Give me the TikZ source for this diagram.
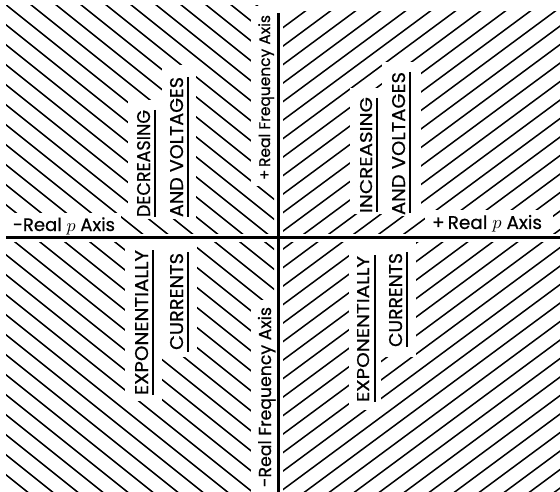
\documentclass[tikz,border=0pt]{standalone}
\usepackage{fontspec}
\setsansfont{Poppins}[FakeBold=0.6]
\usepackage{graphicx}
\begin{document}
\begin{tikzpicture}[x=1pt,y=-1pt,
  hatch/.style={line width=1.5pt, line cap=round},
  axisline/.style={line width=3pt},
  uline/.style={line width=1.8pt},
  lbl/.style={inner sep=0pt, outer sep=0pt, rotate=90, anchor=base, font=\sffamily},
  hlbl/.style={inner sep=0pt, outer sep=0pt, anchor=base west, font=\sffamily},
  gap/.style={fill=white, draw=none}]
\useasboundingbox (0,0) rectangle (560,492);

% left half hatching "\"
\begin{scope}
  \clip (6,6) rectangle (274,233);
  \foreach \c in {-260,-240,...,240} \draw[hatch] (0,\c) -- (300,\c+240);
\end{scope}
\begin{scope}
  \clip (6,242) rectangle (274,492);
  \foreach \c in {-10,10,...,500} \draw[hatch] (0,\c) -- (300,\c+240);
\end{scope}
% right half hatching "/"
\begin{scope}
  \clip (283,12) rectangle (560,233);
  \foreach \c in {200,218.5,...,680} \draw[hatch] (270,\c-199.8) -- (570,\c-421.8);
\end{scope}
\begin{scope}
  \clip (283,242) rectangle (560,492);
  \foreach \c in {440,458.5,...,940} \draw[hatch] (270,\c-199.8) -- (570,\c-421.8);
\end{scope}

% gaps around the lettering
\fill[gap] (6,213) rectangle (121,235);
\fill[gap] (128,100) rectangle (162,219);
\fill[gap] (162,65) rectangle (196,219);
\fill[gap] (251,6) rectangle (276,186);
\fill[gap] (125,240) rectangle (162,401);
\fill[gap] (162,240) rectangle (197,357);
\fill[gap] (251,300) rectangle (276,492);
\fill[gap] (350,88) rectangle (382,214);
\fill[gap] (382,62) rectangle (421,216);
\fill[gap] (425,210) rectangle (553,235);
\fill[gap] (349,240) rectangle (381,410);
\fill[gap] (381,240) rectangle (416,357);

% axes
\coordinate (vtop) at (278,13);
\coordinate (vbot) at (278,492);
\coordinate (hl) at (6,237);
\coordinate (hr) at (560,237);
\draw[axisline] (vtop) -- (vbot);
\draw[axisline] (hl) -- (hr);

% axis labels
\node[hlbl] (negp) at (13,231) {\resizebox{102pt}{!}{-Real $p$ Axis}};
\node[hlbl] (posp) at (432,229) {\resizebox{110pt}{!}{+\,Real $p$ Axis}};
\node[lbl] (posf) at (270,97.5) {\resizebox{165pt}{!}{+\,Real Frequency Axis}};
\node[lbl] (negf) at (271,397) {\resizebox{180pt}{!}{-Real Frequency Axis}};

% quadrant lettering
\node[lbl] (dec) at (150,163.5) {\resizebox{107pt}{13pt}{DECREASING}};
\node[lbl] (avl) at (183,147) {\resizebox{140pt}{13pt}{AND VOLTAGES}};
\node[lbl] (expl) at (148,322.5) {\resizebox{145pt}{13pt}{EXPONENTIALLY}};
\node[lbl] (curl) at (183,301.5) {\resizebox{97pt}{13pt}{CURRENTS}};
\node[lbl] (inc) at (372,155) {\resizebox{116pt}{12pt}{INCREASING}};
\node[lbl] (avr) at (405,143.5) {\resizebox{143pt}{13pt}{AND VOLTAGES}};
\node[lbl] (expr) at (369,329) {\resizebox{146pt}{12pt}{EXPONENTIALLY}};
\node[lbl] (curr) at (402,300) {\resizebox{94pt}{13pt}{CURRENTS}};

% underlines
\draw[uline] (155,110) -- (155,217);
\draw[uline] (188,77) -- (188,217);
\draw[uline] (153,250) -- (153,395);
\draw[uline] (188,252) -- (188,352);
\draw[uline] (377,98) -- (377,212);
\draw[uline] (410,72) -- (410,213);
\draw[uline] (375,255) -- (375,402);
\draw[uline] (407,252) -- (407,347);
\end{tikzpicture}
\end{document}
